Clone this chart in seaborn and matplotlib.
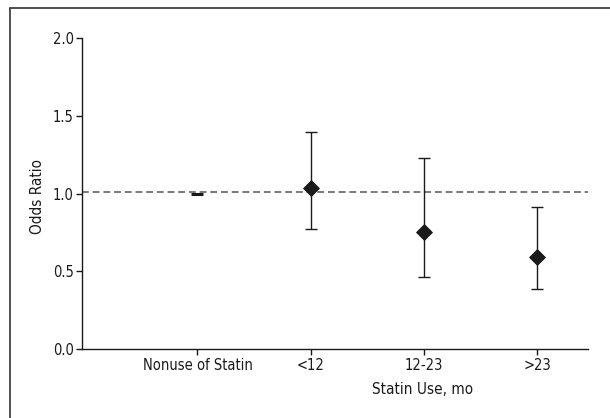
import numpy as np
import pandas as pd
import matplotlib
matplotlib.use("Agg")
import matplotlib.pyplot as plt
from matplotlib.lines import Line2D
import seaborn as sns

# 数据
categories = ["Nonuse of Statin", "<12", "12-23", ">23"]
odds_ratio = [1.00, 1.035, 0.75, 0.595]
ci_lower = [1.00, 0.775, 0.463, 0.388]
ci_upper = [1.00, 1.395, 1.225, 0.916]
y_ticks = [0.0, 0.5, 1.0, 1.5, 2.0]
ref_line = 1.01

sns.set_style("ticks")
plt.rcParams['font.family'] = ['Liberation Sans Narrow', 'DejaVu Sans']
plt.rcParams['font.stretch'] = 'condensed'

df = pd.DataFrame({"pos": np.arange(len(categories)), "cat": categories,
                   "or": odds_ratio, "lo": ci_lower, "hi": ci_upper})

fig = plt.figure(figsize=(6.1, 4.18), dpi=100)
ax = fig.add_axes([82 / 610, 1 - 349.3 / 418, 506 / 610, (349.3 - 37.7) / 418])

ax.axhline(ref_line, color='#555555', lw=1.1, ls=(0, (4.5, 2.5)), zorder=1)

ci = df.iloc[1:]
ax.errorbar(ci["pos"], ci["or"], yerr=[ci["or"] - ci["lo"], ci["hi"] - ci["or"]],
            fmt='none', ecolor='#1a1a1a', elinewidth=1, capsize=4.5, capthick=1, zorder=2)
sns.scatterplot(data=ci, x="pos", y="or", marker='D', s=65, color='#1a1a1a',
                edgecolor='#1a1a1a', ax=ax, zorder=3, legend=False)
ax.plot(df["pos"].iloc[:1], df["or"].iloc[:1], marker='_', ms=8, mew=2.2,
        color='#1a1a1a', ls='none', zorder=3)

ax.set_xlim(-1.02, 3.45)
ax.set_ylim(0, 2.0)
ax.set_xticks(df["pos"])
ax.set_xticklabels(categories)
ax.set_yticks(y_ticks)
ax.set_yticklabels([f"{v:.1f}" for v in y_ticks])
ax.tick_params(labelsize=10.5, length=4, width=1, color='#1a1a1a', labelcolor='#1a1a1a', pad=2)
sns.despine(ax=ax)
for s in ["left", "bottom"]:
    ax.spines[s].set_color('#1a1a1a')
    ax.spines[s].set_linewidth(1)

ax.set_xlabel("Statin Use, mo", fontsize=11, color='#1a1a1a')
ax.set_ylabel("Odds Ratio", fontsize=11, color='#1a1a1a')
ax.xaxis.set_label_coords((423 - 82) / 506, -(382 - 349.3) / 311.6)
ax.yaxis.set_label_coords(-(82 - 45) / 506, 0.5 - (197 - 193.5) / 311.6)

# 外框（左、上）
fig.add_artist(Line2D([10 / 610, 10 / 610], [0, 1 - 8 / 418], transform=fig.transFigure,
                      color='#333333', lw=1.2))
fig.add_artist(Line2D([10 / 610, 1], [1 - 8 / 418, 1 - 8 / 418], transform=fig.transFigure,
                      color='#333333', lw=1.2))

fig.savefig("out.png", dpi=100)
